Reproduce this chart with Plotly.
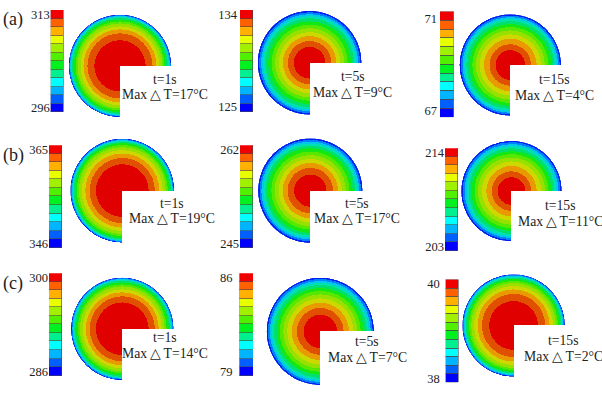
import plotly.graph_objects as go

W, H = 602, 397

# temperature range shown on each colour bar
high_labels = ["313", "134", "71", "365", "262", "214", "300", "86", "40"]
low_labels = ["296", "125", "67", "346", "245", "203", "286", "79", "38"]
time_labels = ["t=1s", "t=5s", "t=15s"] * 3
delta_labels = [17, 9, 4, 19, 17, 11, 14, 7, 2]

# outer radius of each contour band, hottest band first
ring_a1 = [26, 33, 37, 40, 43, 45, 47, 48.5, 49.5, 50.5, 51.3, 52]
ring_a2 = [16, 22, 27, 31, 35, 38.5, 42, 45, 47, 49, 51, 52.7]
ring_a3 = [15, 21, 26.7, 31, 35, 38.5, 41.5, 44.5, 46.5, 48.3, 50, 51.5]
ring_b1 = [26.7, 33, 37.5, 41, 44, 46, 48, 49.3, 50.3, 51.1, 52, 52.7]
ring_b2 = [16.3, 23, 28, 32, 36, 39.5, 43, 45.5, 47.5, 49.5, 51.3, 53]
ring_b3 = [14, 20, 25.5, 30, 34, 37.5, 40.5, 43.5, 45.5, 47.5, 49.5, 51]
ring_c1 = [26.7, 33, 37, 40, 43, 45, 47, 48.5, 49.5, 50.5, 51.3, 52]
ring_c2 = [17, 23.7, 29, 33.5, 37.5, 41, 44, 47, 49, 51, 53, 54.5]
ring_c3 = [24.7, 32, 36.5, 40, 43, 45, 47, 48.5, 49.5, 50.5, 51.3, 52]
rings = [ring_a1, ring_a2, ring_a3, ring_b1, ring_b2, ring_b3, ring_c1, ring_c2, ring_c3]

ring_colors = ["#e00000", "#e05000", "#e89a00", "#ccd800", "#98e000", "#58e800",
               "#14e814", "#00e070", "#00e0b0", "#00c8e8", "#0080ff", "#0020f0"]
bar_colors = ["#0000ff", "#0060ff", "#00b4ff", "#00ffff", "#00f090", "#00f020",
              "#50f000", "#a0f000", "#e8ff00", "#ffb000", "#ff6000", "#f00000"]
cell_sizes = [1] * 12

# layout, in pixels of the 602x397 picture
centers = [(120, 64.7), (309.6, 61.5), (510.3, 63.8), (122.3, 191), (310.3, 191),
           (511.5, 191.5), (122.3, 331), (320.3, 333.6), (513.6, 327.6)]
bar_boxes = [(50.7, 64, 8, 111.7), (240, 253.3, 8, 111.7), (440, 453.7, 9.7, 116.7),
             (49, 62.3, 145, 249.3), (240, 253.3, 145, 249.3), (445, 458.3, 148, 252.3),
             (49, 62.3, 274.7, 378.7), (239.5, 253, 274.7, 378.7), (445.7, 459, 281, 385.3)]
text_pos = [(165, 78, 94), (352.7, 75.7, 91.7), (554.7, 78.7, 94.7),
            (172, 204, 219.3), (357.3, 204, 219.3), (560, 206.3, 222.7),
            (165, 340, 356), (367.3, 344, 360), (563, 343, 359)]
panel_tags = [("(a)", 17.7), ("(b)", 155), ("(c)", 285)]
# where the two labels sit on the bar, and their distance from it
low_ticks = [0.5, 0.7, 0.8, 0.5, 0.5, 0.5, 0.5, 0.5, 0.5]
high_ticks = [11.5, 11.5, 11.2, 11.5, 11.5, 11.5, 11.5, 11.5, 11.5]
label_gaps = [0, 2, 2, 0, 0, 0, 0, 6, 5]

FONT = "Liberation Serif"


def xpaper(px):
    return px / W


def ypaper(px):
    return 1 - px / H


fig = go.Figure()
layout = {}
annotations = []

for i in range(9):
    name = "" if i == 0 else str(i + 1)
    cx, cy = centers[i]
    radius = rings[i][-1]

    # outermost band first so that the inner ones sit on top without seams
    for r, color in zip(rings[i][::-1], ring_colors[::-1]):
        fig.add_trace(go.Barpolar(r=[r], theta=[135], width=[270], marker_color=color,
                                  marker_line_width=0, subplot="polar" + name, showlegend=False))
    layout["polar" + name] = dict(
        domain=dict(x=[xpaper(cx - radius), xpaper(cx + radius)],
                    y=[ypaper(cy + radius), ypaper(cy - radius)]),
        radialaxis=dict(range=[0, radius], visible=False),
        angularaxis=dict(visible=False),
        bgcolor="rgba(0,0,0,0)",
        barmode="overlay",
    )

    # colour bar
    x0, x1, y0, y1 = bar_boxes[i]
    fig.add_trace(go.Bar(x=[0] * 12, y=cell_sizes, width=1, marker_color=bar_colors,
                         marker_line=dict(color="#4a4a4a", width=0.6),
                         xaxis="x" + name, yaxis="y" + name, showlegend=False))
    layout["xaxis" + name] = dict(domain=[xpaper(x0), xpaper(x1)], range=[-0.5, 0.5], visible=False,
                                  anchor="y" + name)
    layout["yaxis" + name] = dict(domain=[ypaper(y1), ypaper(y0)], range=[0, 12], anchor="x" + name,
                                  tickvals=[low_ticks[i], high_ticks[i]],
                                  ticktext=[low_labels[i], high_labels[i]],
                                  ticks="", showgrid=False, zeroline=False, showline=False,
                                  ticklabelstandoff=label_gaps[i],
                                  tickfont=dict(family=FONT, size=12.5, color="#222222"))

    # text in the cut out corner
    tx, ty1, ty2 = text_pos[i]
    annotations.append(dict(text=time_labels[i], x=xpaper(tx), y=ypaper(ty1)))
    annotations.append(dict(text="Max\u2009△\u2009T=%d°C" % delta_labels[i], x=xpaper(tx), y=ypaper(ty2)))

for tag, ty in panel_tags:
    annotations.append(dict(text=tag, x=xpaper(13), y=ypaper(ty), font=dict(family=FONT, size=18, color="#222222")))

for a in annotations:
    a.update(xref="paper", yref="paper", xanchor="center", yanchor="middle", showarrow=False)
    a.setdefault("font", dict(family=FONT, size=13.7, color="#222222"))

fig.update_layout(width=W, height=H, margin=dict(l=0, r=0, t=0, b=0), paper_bgcolor="white",
                  plot_bgcolor="white", barmode="stack", bargap=0, annotations=annotations, **layout)

# the page's default body margin would push the figure 8px off
fig.write_html("out.html", config=dict(displayModeBar=False),
               post_script="document.body.style.margin='0';")
